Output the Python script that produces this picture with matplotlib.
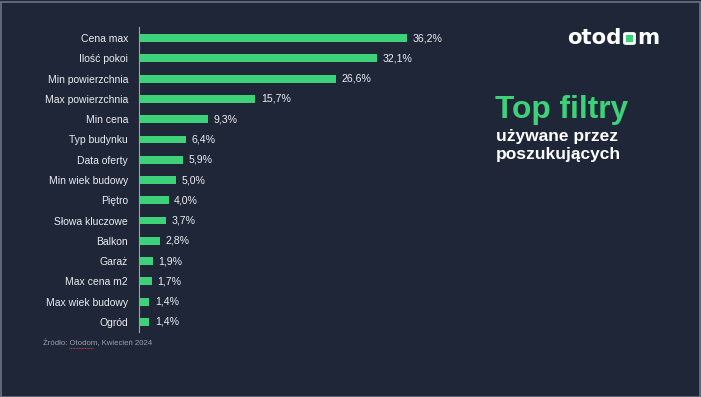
import matplotlib
matplotlib.use("Agg")
import matplotlib.pyplot as plt
from matplotlib.patches import Rectangle, FancyBboxPatch

categories = ["Cena max", "Ilość pokoi", "Min powierzchnia", "Max powierzchnia",
              "Min cena", "Typ budynku", "Data oferty", "Min wiek budowy",
              "Piętro", "Słowa kluczowe", "Balkon", "Garaż", "Max cena m2",
              "Max wiek budowy", "Ogród"]
values = [36.2, 32.1, 26.6, 15.7, 9.3, 6.4, 5.9, 5.0, 4.0, 3.7, 2.8, 1.9, 1.7, 1.4, 1.4]
value_labels = ["36,2%", "32,1%", "26,6%", "15,7%", "9,3%", "6,4%", "5,9%", "5,0%",
                "4,0%", "3,7%", "2,8%", "1,9%", "1,7%", "1,4%", "1,4%"]

BG = "#1e2637"
GREEN = "#3dd27a"
TXT = "#eceef2"

plt.rcParams['font.family'] = ['Liberation Sans', 'DejaVu Sans']

W, H = 701, 397
fig = plt.figure(figsize=(W / 100, H / 100), dpi=100, facecolor=BG)

def fx(px):
    return px / W

def fy(py):
    return 1 - py / H

ax_left, ax_right = 139, 480
ax_top, ax_bot = 27, 332
ax = fig.add_axes([fx(ax_left), fy(ax_bot), fx(ax_right - ax_left), (ax_bot - ax_top) / H])
ax.set_facecolor(BG)
ypos = list(range(len(categories)))
ax.barh(ypos, values, height=0.39, color=GREEN, zorder=2)
xmax = (ax_right - ax_left) / 7.4
ax.set_xlim(0, xmax)
ax.set_ylim(len(categories) - 0.5, -0.55)
ax.set_yticks(ypos)
ax.set_yticklabels(categories, color=TXT, fontsize=7.5)
ax.tick_params(axis='y', length=0, pad=8)
ax.set_xticks([])
for s in ["top", "right", "bottom"]:
    ax.spines[s].set_visible(False)
ax.spines["left"].set_color("#9aa2b0")
ax.spines["left"].set_linewidth(0.8)
for y, v, lab in zip(ypos, values, value_labels):
    ax.annotate(lab, (v, y), xytext=(4, 0), textcoords="offset points",
                va="center", ha="left", color=TXT, fontsize=7.6)

# Logo
fig.text(fx(622), fy(38), "otod", color="white", fontsize=15.3, fontweight="bold",
         ha="right", va="center", family=["DejaVu Sans"])
fig.patches.append(FancyBboxPatch((fx(624.5), fy(43.5)), fx(10), 10 / H,
                                  boxstyle="round,pad=0,rounding_size=0.002",
                                  transform=fig.transFigure, facecolor=GREEN,
                                  edgecolor="white", linewidth=2.0))
fig.text(fx(637), fy(38), "m", color="white", fontsize=15.3, fontweight="bold",
         ha="left", va="center", family=["DejaVu Sans"])

# Title
fig.text(fx(495), fy(110), "Top filtry", color=GREEN, fontsize=22.8, fontweight="bold",
         ha="left", va="center")
fig.text(fx(496), fy(137), "używane przez", color="white", fontsize=12.5, fontweight="bold",
         ha="left", va="center")
fig.text(fx(496), fy(155), "poszukujących", color="white", fontsize=12.5, fontweight="bold",
         ha="left", va="center")

# Source
fig.text(fx(43), fy(343), "Źródło: Otodom, Kwiecień 2024", color="#9aa0ab", fontsize=5.6,
         ha="left", va="center")
fig.lines.append(plt.Line2D([fx(69), fx(93)], [fy(347.5), fy(347.5)], transform=fig.transFigure,
                            color="#c0394a", linewidth=0.7, linestyle=(0, (1, 0.6))))

# Border
fig.patches.append(Rectangle((0.5 / W, 0.5 / H), 1 - 2 / W, 1 - 2 / H, transform=fig.transFigure,
                             facecolor="none", edgecolor="#6c7484", linewidth=1.2))

fig.savefig("out.png", dpi=100, facecolor=BG)
